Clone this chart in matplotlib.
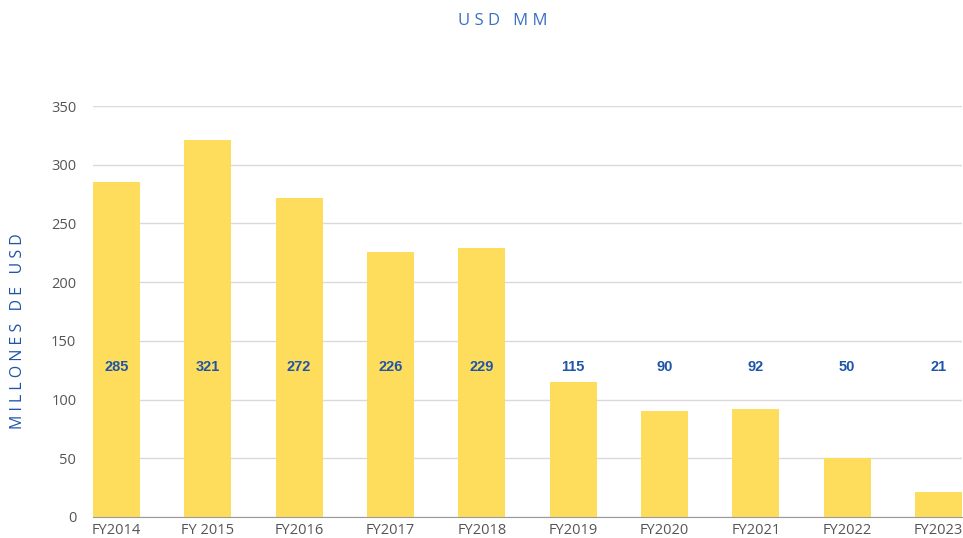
import matplotlib
matplotlib.use("Agg")
import matplotlib.pyplot as plt

categories = ["FY2014", "FY 2015", "FY2016", "FY2017", "FY2018", "FY2019", "FY2020", "FY2021", "FY2022", "FY2023"]
values = [285, 321, 272, 226, 229, 115, 90, 92, 50, 21]
yticks = [0, 50, 100, 150, 200, 250, 300, 350]
title = "USD MM"
ylabel = "MILLONES DE USD"

W, H = 963, 538
fig = plt.figure(figsize=(W / 100, H / 100), dpi=100)
left, right, top, bottom = 93, 962, 106, 517
ax = fig.add_axes([left / W, 1 - bottom / H, (right - left) / W, (bottom - top) / H])

bw = 0.515
x = list(range(len(categories)))
ax.bar(x, values, width=bw, color="#FFDD5C", zorder=2)
ax.set_xlim(-bw / 2, len(categories) - 1 + bw / 2)
ax.set_ylim(0, 350)
ax.set_yticks(yticks)
ax.set_xticks(x)
ax.set_xticklabels(categories, fontsize=10.5, color="#555555", family="Open Sans")
ax.set_yticklabels([str(v) for v in yticks], fontsize=10.5, color="#555555", family="Open Sans")
ax.grid(axis="y", color="#d9d9d9", linewidth=1, zorder=0)
for s in ["top", "right", "left"]:
    ax.spines[s].set_visible(False)
ax.spines["bottom"].set_color("#999999")
ax.spines["bottom"].set_zorder(3)
ax.tick_params(axis="both", length=0)
ax.tick_params(axis="y", pad=12)
ax.tick_params(axis="x", pad=4)

for xi, v in zip(x, values):
    ax.text(xi, 128, str(v), ha="center", va="center", fontsize=10.5, fontweight="bold",
            color="#1E55A8", family="Liberation Sans", zorder=4)

fig.text(503 / W, 1 - 21 / H, " ".join(title), ha="center", va="center", fontsize=12,
         color="#3A6FC4", family="Open Sans")
fig.text(18 / W, 1 - 331 / H, " ".join(ylabel), ha="center", va="center", fontsize=11.5,
         color="#1E55A8", family="Open Sans", rotation=90)

fig.savefig("out.png", dpi=100)
